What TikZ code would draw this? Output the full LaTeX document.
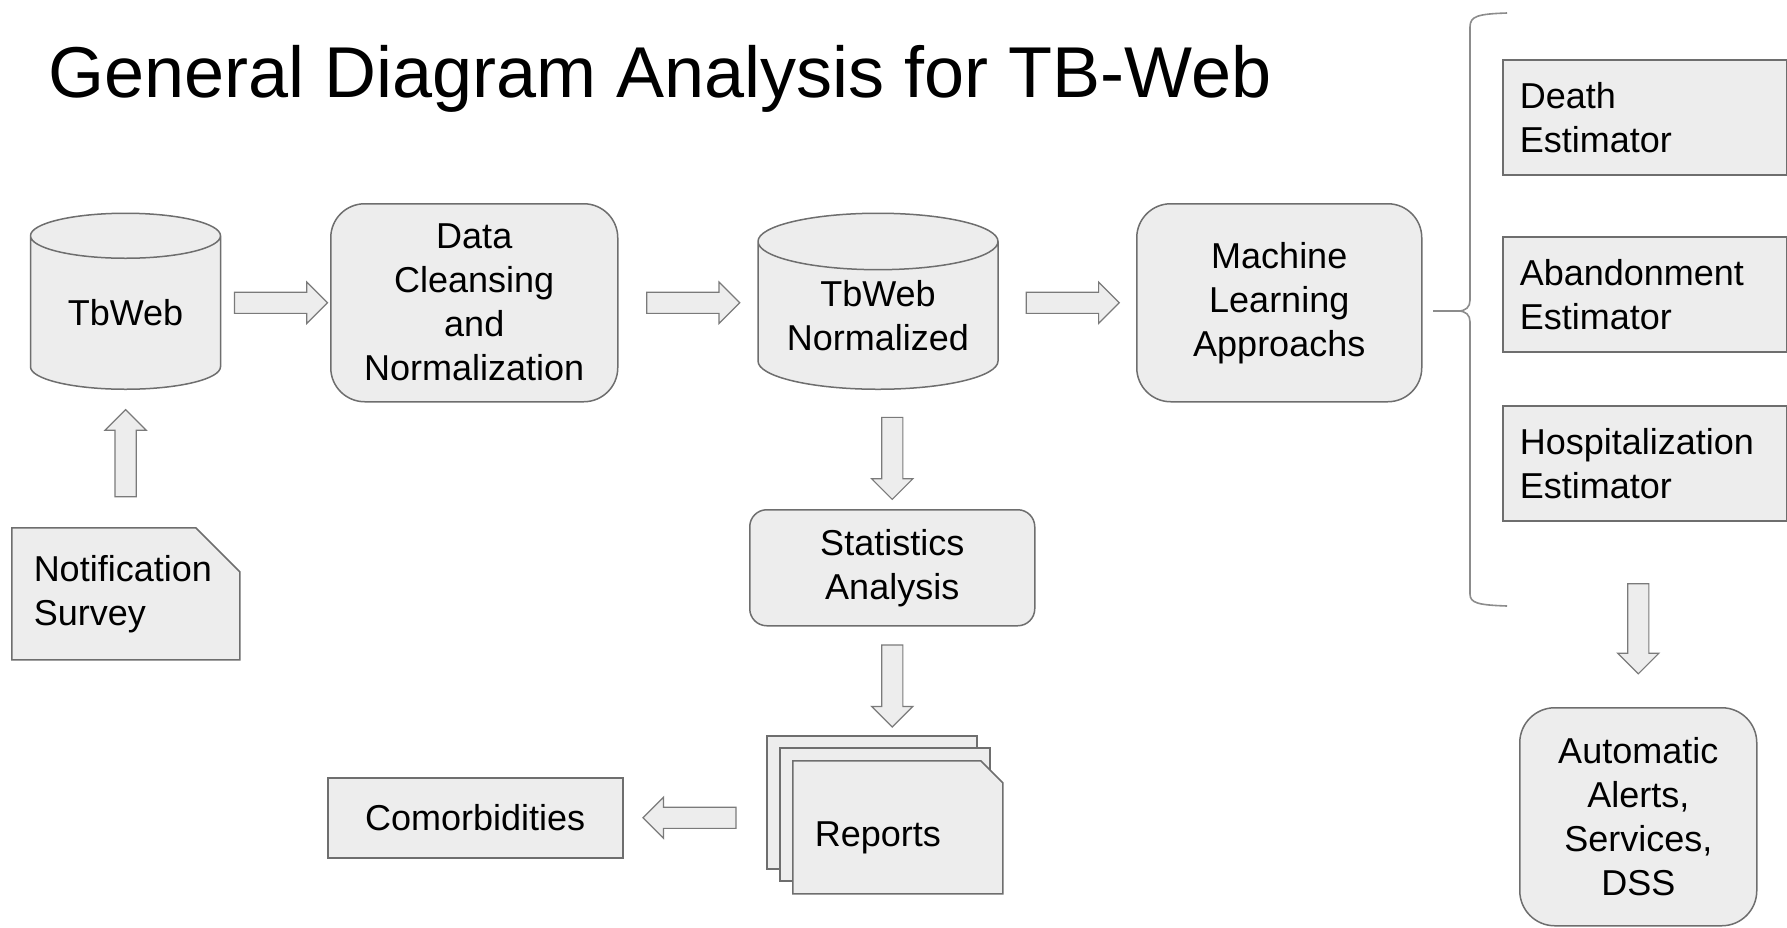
\documentclass[tikz,border=0pt]{standalone}
\usepackage{fontspec}
\setmainfont{Liberation Sans}
\usetikzlibrary{positioning,calc,shapes.geometric,shapes.misc,shapes.arrows}

\definecolor{boxfill}{HTML}{EDEDED}
\definecolor{boxline}{HTML}{6E6E6E}
\definecolor{arrowline}{HTML}{7A7A7A}
\definecolor{braceline}{HTML}{8C8C8C}
\definecolor{dbtop}{HTML}{F6F6F6}

\newcommand{\labelfont}{\fontsize{36}{44}\selectfont}
\newcommand{\titlefont}{\fontsize{72}{80}\selectfont}

\tikzset{
  box/.style={draw=boxline, fill=boxfill, line width=1.5pt, inner sep=0pt, align=center, font=\labelfont},
  roundbox/.style={box, rounded corners=34pt, anchor=north west},
  estbox/.style={box, anchor=north west, minimum width=284pt, minimum height=115pt,
    inner xsep=17pt, text width=250pt, align=left},
  docbox/.style={box, chamfered rectangle, chamfered rectangle corners=north east,
    chamfered rectangle xsep=22pt, chamfered rectangle ysep=22pt, anchor=north west, align=left},
  dbbox/.style={box, cylinder, shape border rotate=90, cylinder uses custom fill,
    cylinder body fill=boxfill, cylinder end fill=dbtop, minimum height=176pt, anchor=south},
  blockarrow/.style={single arrow, draw=arrowline, fill=boxfill, line width=1.2pt,
    minimum width=40pt, single arrow head extend=10pt, single arrow head indent=0pt,
    single arrow tip angle=90, inner sep=10pt},
  bracestyle/.style={draw=braceline, line width=1.6pt},
}

\begin{document}
\begin{tikzpicture}[x=1pt, y=-1pt]

\fill[white] (0,0) rectangle (1787,927);
\useasboundingbox (0,0) rectangle (1787,927);

% Title
\node[anchor=base west, font=\titlefont, inner sep=0pt] (title) at (48,97)
  {General Diagram Analysis for TB-Web};

% Sources
\node[dbbox, minimum width=190pt, aspect=0.39] (tbweb) at (125.5,390) {TbWeb};
\node[docbox, minimum width=228pt, minimum height=132pt, text width=184pt]
  (notif) at (11,527) {Notification\\Survey};

% Main chain
\node[roundbox, minimum width=287pt, minimum height=198pt] (data) at (330,203)
  {Data\\Cleansing\\and\\Normalization};
\node[dbbox, minimum width=240pt, aspect=0.31] (tbnorm) at (878,390) {TbWeb\\Normalized};
\node[roundbox, minimum width=285pt, minimum height=198pt] (ml) at (1136,203)
  {Machine\\Learning\\Approachs};

% Estimators
\node[estbox] (death) at (1502,59) {Death\\Estimator};
\node[estbox] (aband) at (1502,236) {Abandonment\\Estimator};
\node[estbox] (hosp) at (1502,405) {Hospitalization\\Estimator};

% Brace round the estimators
\coordinate (bracetop) at (1507,13);
\coordinate (bracetip) at (1433,311);
\coordinate (bracebot) at (1507,606);
\draw[bracestyle] (bracetop) .. controls (1478,14) and (1470,16) .. (1470,27)
  -- (1470,300) .. controls (1470,307) and (1466,311) .. (1458,311) -- (bracetip)
  -- (1458,311) .. controls (1466,311) and (1470,315) .. (1470,322)
  -- (1470,594) .. controls (1470,603) and (1478,605) .. (bracebot);

\node[roundbox, rounded corners=35pt, minimum width=237pt, minimum height=218pt] (auto) at (1519,707)
  {Automatic\\Alerts,\\Services,\\DSS};

% Statistics and reports
\node[roundbox, rounded corners=17pt, minimum width=285pt, minimum height=116pt] (stats) at (749,509)
  {Statistics\\Analysis};
\node[docbox, minimum width=210pt, minimum height=133pt] (reports3) at (766,735) {};
\node[docbox, minimum width=210pt, minimum height=133pt] (reports2) at (779,747) {};
\node[docbox, minimum width=210pt, minimum height=133pt, text width=166pt]
  (reports) at (792,760) {\raisebox{-19.5pt}[0pt][0pt]{Reports}};
\node[box, anchor=north west, minimum width=295pt, minimum height=80pt] (comorb) at (327,777)
  {Comorbidities};

% Block arrows
\node[blockarrow, minimum height=93pt] (arr1) at ($(tbweb.east |- data.west)!0.5!(data.west)$) {};
\node[blockarrow, minimum height=93pt] (arr2) at ($(data.east)!0.5!(tbnorm.west |- data.east)$) {};
\node[blockarrow, minimum height=93pt] (arr3) at ($(tbnorm.east |- ml.west)!0.5!(ml.west)$) {};
\node[blockarrow, minimum height=87pt, rotate=90] (arr4) at ($(notif.north)!0.5!(tbweb.south)$) {};
\node[blockarrow, minimum height=82pt, rotate=-90] (arr5)
  at ($(tbnorm.south -| stats.north)!0.53!(stats.north)$) {};
\node[blockarrow, minimum height=82pt, rotate=-90] (arr6)
  at ($(stats.south)!0.5!(stats.south |- reports3.north)$) {};
\node[blockarrow, minimum height=93pt, rotate=180] (arr7)
  at ($(comorb.east)!0.5!(comorb.east -| reports3.west)$) {};
\node[blockarrow, minimum height=90pt, rotate=-90] (arr8)
  at ($(hosp.south -| auto.north)!0.55!(auto.north)$) {};

\end{tikzpicture}
\end{document}
